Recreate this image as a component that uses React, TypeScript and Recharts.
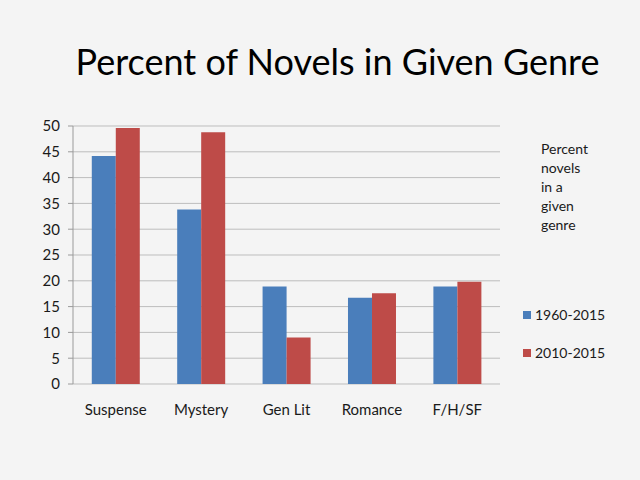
import React from "react";
import {
  BarChart,
  Bar,
  XAxis,
  YAxis,
  CartesianGrid,
  Legend,
} from "recharts";

const genres = ["Suspense", "Mystery", "Gen Lit", "Romance", "F/H/SF"];
const allYears = [44.2, 33.8, 18.9, 16.7, 18.9];
const recentYears = [49.6, 48.8, 9.0, 17.6, 19.8];
const yTicks = [0, 5, 10, 15, 20, 25, 30, 35, 40, 45, 50];
const edgeTicks = [0, 1, 2, 3, 4, 5];

const data = genres.map((name, i) => ({
  name,
  a: allYears[i],
  b: recentYears[i],
}));

const font = "Lato, 'Open Sans', sans-serif";

function LegendBox(props: any) {
  const { payload } = props;
  return (
    <div style={{ fontFamily: font, fontSize: 14, color: "#1a1a1a" }}>
      <div style={{ marginLeft: 18, lineHeight: "19px" }}>
        Percent
        <br />
        novels
        <br />
        in a
        <br />
        given
        <br />
        genre
      </div>
      <div style={{ height: 71 }} />
      {payload.map((p: any) => (
        <div
          key={p.value}
          style={{ display: "flex", alignItems: "center", height: 19, marginBottom: 19 }}
        >
          <span
            style={{
              width: 8,
              height: 8,
              background: p.color,
              display: "inline-block",
              marginRight: 4,
            }}
          />
          {p.value}
        </div>
      ))}
    </div>
  );
}

export default function App() {
  return (
    <div
      style={{
        position: "fixed",
        left: 0,
        top: 0,
        width: 640,
        height: 480,
        background: "#f4f4f4",
      }}
    >
      <div
        style={{
          position: "absolute",
          left: 0,
          width: 675,
          top: 39,
          textAlign: "center",
          fontFamily: font,
          fontSize: 36,
          color: "#000",
        }}
      >
        Percent of Novels in Given Genre
      </div>
      <BarChart
        width={640}
        height={480}
        data={data}
        margin={{ top: 126, right: 140, bottom: 66, left: 33 }}
        barCategoryGap="22%"
        barGap={0}
      >
        <CartesianGrid vertical={false} stroke="#bdbdbd" />
        <XAxis
          xAxisId="edges"
          type="number"
          domain={[0, 5]}
          ticks={edgeTicks}
          tick={false}
          height={0}
          tickSize={5}
          axisLine={{ stroke: "#9a9a9a" }}
          tickLine={{ stroke: "#9a9a9a" }}
        />
        <XAxis
          dataKey="name"
          height={30}
          axisLine={false}
          tickLine={false}
          tickSize={0}
          tickMargin={20}
          tick={{ fill: "#1a1a1a", fontSize: 15, fontFamily: font }}
        />
        <YAxis
          width={40}
          domain={[0, 50]}
          ticks={yTicks}
          interval={0}
          tickSize={5}
          tickMargin={8}
          axisLine={{ stroke: "#9a9a9a" }}
          tickLine={{ stroke: "#9a9a9a" }}
          tick={{ fill: "#1a1a1a", fontSize: 15, fontFamily: font }}
        />
        <Legend
          layout="vertical"
          align="center"
          verticalAlign="middle"
          content={LegendBox}
          wrapperStyle={{ position: "absolute", left: 523, top: 139, width: 117 }}
        />
        <Bar dataKey="a" name="1960-2015" fill="#4a7ebb" isAnimationActive={false} />
        <Bar dataKey="b" name="2010-2015" fill="#be4b48" isAnimationActive={false} />
      </BarChart>
    </div>
  );
}
